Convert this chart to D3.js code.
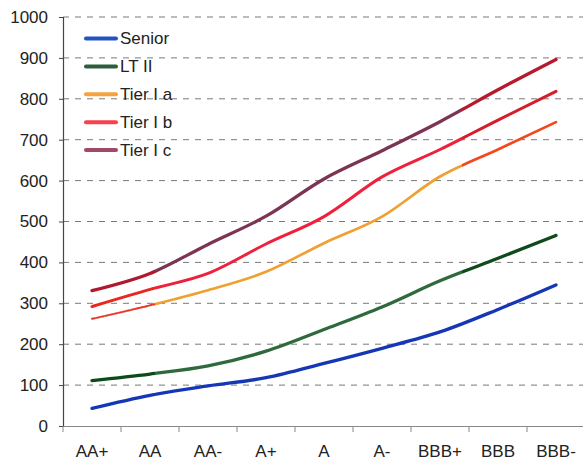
<!DOCTYPE html>
<html>
<head>
<meta charset="utf-8">
<script src="https://cdn.jsdelivr.net/npm/d3@7"></script>
<style>
  body { margin: 0; background: #fff; }
  svg { display: block; font-family: "Liberation Sans", Arial, sans-serif; }
</style>
</head>
<body>
<div id="chart"></div>
<script>
const W = 583, H = 461;
const MARGIN = { LEFT: 63, RIGHT: -2, TOP: 17, BOTTOM: 35 };

// data
const ratings = ["AA+", "AA", "AA-", "A+", "A", "A-", "BBB+", "BBB", "BBB-"];
const yTicks = [0, 100, 200, 300, 400, 500, 600, 700, 800, 900, 1000];
const senior = [43, 75, 98, 118, 153, 190, 230, 285, 345];
const ltII   = [111, 127, 147, 183, 236, 291, 355, 410, 466];
const tierIa = [262, 295, 332, 377, 447, 512, 610, 676, 743];
const tierIb = [292, 334, 373, 445, 512, 609, 676, 748, 818];
const tierIc = [331, 373, 444, 513, 604, 673, 744, 822, 896];

// legend colour + the three colour bands of the printed line (left, middle, right)
const series = [
  { name: "Senior",  values: senior, legend: "#2352c2", w: 3.3,
    segs: ["#1637b5", "#1637b5", "#1637b5"] },
  { name: "LT II",   values: ltII,   legend: "#2d5e3c", w: 3.3,
    segs: ["#0d4a1c", "#2f6a3e", "#0d4a1c"] },
  { name: "Tier I a", values: tierIa, legend: "#f8a23e", w: 2.7,
    segs: ["#e8352a", "#f0a030", "#f2481c"], dash0: "3,1.5" },
  { name: "Tier I b", values: tierIb, legend: "#f8404e", w: 3,
    segs: ["#e8281e", "#f0203c", "#d41e2a"] },
  { name: "Tier I c", values: tierIc, legend: "#a04a68", w: 3.3,
    segs: ["#b0182c", "#7c3454", "#b61a2c"] }
];

const svg = d3.select("#chart").append("svg")
  .attr("width", W)
  .attr("height", H);

const innerBottom = 426;
const x = d3.scaleBand()
  .domain(ratings)
  .range([MARGIN.LEFT, 585]);
const y = d3.scaleLinear()
  .domain([0, 1000])
  .range([innerBottom, MARGIN.TOP]);
const cx = d => x(d) + x.bandwidth() / 2;

// gridlines
svg.append("g")
  .selectAll("line")
  .data(yTicks.filter(d => d > 0))
  .join("line")
  .attr("x1", MARGIN.LEFT)
  .attr("x2", W)
  .attr("y1", d => y(d))
  .attr("y2", d => y(d))
  .attr("stroke", "#7a7a7a")
  .attr("stroke-width", 1)
  .attr("stroke-dasharray", "6,6");

// y axis
const yAxis = svg.append("g")
  .attr("transform", `translate(${MARGIN.LEFT},0)`)
  .call(d3.axisLeft(y).tickValues(yTicks).tickFormat(d3.format("d")).tickSize(4).tickPadding(11));
yAxis.select(".domain").attr("stroke", "#444").attr("stroke-width", 1.2);
yAxis.selectAll(".tick line").attr("stroke", "#444");
yAxis.selectAll("text")
  .style("font-size", "17px")
  .attr("fill", "#222");

// x axis
const xAxis = svg.append("g")
  .attr("transform", `translate(0,${innerBottom})`)
  .call(d3.axisBottom(x).tickSize(0).tickPadding(19));
xAxis.select(".domain").attr("stroke", "#888").attr("stroke-width", 1.2);
xAxis.selectAll("text")
  .style("font-size", "17px")
  .attr("fill", "#222");
// boundary ticks between categories
xAxis.append("g")
  .selectAll("line")
  .data(ratings)
  .join("line")
  .attr("x1", d => x(d))
  .attr("x2", d => x(d))
  .attr("y1", 0)
  .attr("y2", 6)
  .attr("stroke", "#888");

// colour bands of the printed lines
const b1 = cx("AA") + 5;
const b2 = cx("BBB+") + x.bandwidth() * 0.38;
const bands = [[0, b1], [b1, b2], [b2, W]];
const defs = svg.append("defs");
bands.forEach((b, i) => {
  defs.append("clipPath").attr("id", "band" + i)
    .append("rect")
    .attr("x", b[0]).attr("y", 0)
    .attr("width", b[1] - b[0]).attr("height", H);
});

const line = d3.line()
  .x((d, i) => cx(ratings[i]))
  .y(d => y(d))
  .curve(d3.curveMonotoneX);

series.forEach(s => {
  const g = svg.append("g").attr("class", "series");
  s.segs.forEach((c, i) => {
    g.append("path")
      .attr("d", line(s.values))
      .attr("clip-path", `url(#band${i})`)
      .attr("fill", "none")
      .attr("stroke", c)
      .attr("stroke-width", i === 0 && s.dash0 ? 2 : s.w)
      .attr("stroke-dasharray", i === 0 && s.dash0 ? s.dash0 : null)
      .attr("stroke-linecap", "round")
      .attr("stroke-linejoin", "round");
  });
});

// legend
const legend = svg.append("g").attr("transform", "translate(86,38.5)");
series.forEach((s, i) => {
  const row = legend.append("g").attr("transform", `translate(0,${i * 27.9})`);
  row.append("line")
    .attr("x1", 0).attr("x2", 30)
    .attr("stroke", s.legend)
    .attr("stroke-width", 4)
    .attr("stroke-linecap", "round");
  row.append("text")
    .attr("x", 34)
    .attr("dy", "0.35em")
    .style("font-size", "17px")
    .attr("fill", "#222")
    .text(s.name);
});
</script>
</body>
</html>
